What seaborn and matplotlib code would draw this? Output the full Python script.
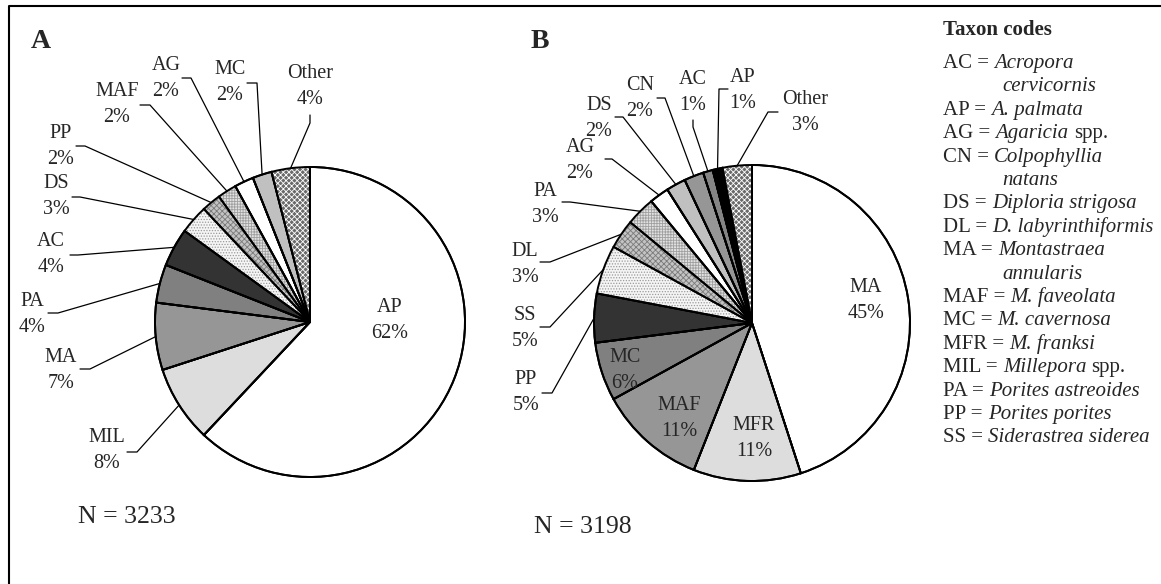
import matplotlib
matplotlib.use('Agg')
import numpy as np
import matplotlib.pyplot as plt
import seaborn as sns

W, H = 1161, 584

# panel A: taxa clockwise from 12 o'clock, % of colonies
codes_a = ['AP', 'MIL', 'MA', 'PA', 'AC', 'DS', 'PP', 'MAF', 'AG', 'MC', 'Other']
pct_a = [62, 8, 7, 4, 4, 3, 2, 2, 2, 2, 4]
n_a = 3233

# panel B
codes_b = ['MA', 'MFR', 'MAF', 'MC', 'PP', 'SS', 'DL', 'PA', 'AG', 'DS', 'CN',
           'AC', 'AP', 'Other']
pct_b = [45, 11, 11, 6, 5, 5, 3, 3, 2, 2, 2, 1, 1, 3]
n_b = 3198

# taxon code key: code, italic name, roman suffix, italic second line
key_codes = ['AC', 'AP', 'AG', 'CN', 'DS', 'DL', 'MA', 'MAF', 'MC', 'MFR',
             'MIL', 'PA', 'PP', 'SS']
key_names = ['Acropora', 'A. palmata', 'Agaricia', 'Colpophyllia',
             'Diploria strigosa', 'D. labyrinthiformis', 'Montastraea',
             'M. faveolata', 'M. cavernosa', 'M. franksi', 'Millepora',
             'Porites astreoides', 'Porites porites', 'Siderastrea siderea']
key_suffix = ['', '', 'spp.', '', '', '', '', '', '', '', 'spp.', '', '', '']
key_wrap = ['cervicornis', '', '', 'natans', '', '', 'annularis', '', '', '',
            '', '', '', '']

# Excel-like fill per series slot (fill colour, hatch, hatch colour)
SLOT_FILL = ['white', '#dddddd', '#969696', '#808080', '#333333', '#f5f5f5',
             '#c4c4c4', '#e2e2e2', 'white', '#c0c0c0', '#969696', '#858585',
             'black']
SLOT_HATCH = [None, None, None, None, None, '......', 'xxxxxx', '++++++',
              None, None, None, None, None]
SLOT_HATCH_COLOR = [None, None, None, None, None, '#9a9a9a', '#7a7a7a',
                    '#a0a0a0', None, None, None, None, None]
OTHER_STYLE = ('#6a6a6a', 'xxxxxx', 'white')

# label layout in pixels: text centre, leader start, leader elbow
LAYOUT_A = {
    'AP': ((390, 320), None),
    'MIL': ((107, 451), [(127, 452), (137, 452)]),
    'MA': ((61, 370), [(80, 369), (90, 369)]),
    'PA': ((32, 314), [(48, 313), (58, 313)]),
    'AC': ((51, 255), [(70, 255), (78, 255)]),
    'DS': ((56, 196), [(72, 197), (80, 197)]),
    'PP': ((61, 146), [(76, 146), (85, 146)]),
    'MAF': ((117, 105), [(140, 105), (150, 105)]),
    'AG': ((166, 78), [(182, 78), (191, 78)]),
    'MC': ((230, 83), [(247, 83), (257, 83)]),
    'Other': ((310, 87), [(310, 115), (310, 123)]),
}
LAYOUT_B = {
    'MA': ((866, 300), None),
    'MFR': ((754, 438), None),
    'MAF': ((679, 419), None),
    'MC': ((625, 371), None),
    'PP': ((526, 393), [(542, 393), (552, 393)]),
    'SS': ((525, 328), [(540, 327), (550, 327)]),
    'DL': ((525, 264), [(540, 262), (550, 262)]),
    'PA': ((545, 204), [(562, 202), (570, 202)]),
    'AG': ((580, 160), [(605, 159), (612, 159)]),
    'DS': ((599, 119), [(615, 117), (623, 117)]),
    'CN': ((640, 98), [(657, 98), (665, 98)]),
    'AC': ((693, 92), [(693, 120), (693, 127)]),
    'AP': ((743, 90), [(728, 89), (719, 89)]),
    'Other': ((805, 112), [(778, 112), (768, 112)]),
}

LABEL_SIZE = 14.5
KEY_SIZE = 15


def fy(y):
    '''Convert a pixel row (top origin) to data y (bottom origin).'''
    return H - y


def draw_pie(ax, codes, pcts, center, radius, layout):
    fills, hatches, hcolors = [], [], []
    for i, code in enumerate(codes):
        if code == 'Other':
            f, h, hc = OTHER_STYLE
        else:
            f, h, hc = SLOT_FILL[i], SLOT_HATCH[i], SLOT_HATCH_COLOR[i]
        fills.append(f)
        hatches.append(h)
        hcolors.append(hc)

    cxy = (center[0], fy(center[1]))
    wedges, _ = ax.pie(pcts, colors=fills, startangle=90, counterclock=False,
                       center=cxy, radius=radius, frame=True,
                       wedgeprops=dict(edgecolor='black', linewidth=1.4))
    for w, h, hc in zip(wedges, hatches, hcolors):
        if h:
            w.set_hatch(h)
            w.set_edgecolor(hc)
            w.set_linewidth(0)
    # outlines drawn again on top of the hatching
    ax.pie(pcts, colors=['none'] * len(pcts), startangle=90, counterclock=False,
           center=cxy, radius=radius, frame=True,
           wedgeprops=dict(edgecolor='black', linewidth=1.4, fill=False))

    for w, code, p in zip(wedges, codes, pcts):
        (tx, ty), leader = layout[code]
        ax.text(tx, fy(ty), f'{code}\n{p}%', ha='center', va='center',
                fontsize=LABEL_SIZE, linespacing=1.5)
        if leader:
            mid = np.deg2rad((w.theta1 + w.theta2) / 2)
            rim = (cxy[0] + radius * np.cos(mid), cxy[1] + radius * np.sin(mid))
            xs = [leader[0][0], leader[1][0], rim[0]]
            ys = [fy(leader[0][1]), fy(leader[1][1]), rim[1]]
            ax.plot(xs, ys, color='black', linewidth=0.9)


def text_run(ax, renderer, x, y, parts):
    '''Write (string, style) pieces one after another on a baseline.'''
    gap = 0.25 * KEY_SIZE * 100 / 72
    for s, style in parts:
        t = ax.text(x, fy(y), s, ha='left', va='baseline', fontsize=KEY_SIZE,
                    style=style)
        x = t.get_window_extent(renderer).x1 + gap


def main():
    sns.set_style('white')
    plt.rcParams['font.family'] = ['Liberation Serif', 'DejaVu Serif']
    plt.rcParams['hatch.linewidth'] = 0.6

    fig = plt.figure(figsize=(W / 100, H / 100), dpi=100)
    ax = fig.add_axes([0, 0, 1, 1])
    ax.set_xlim(0, W)
    ax.set_ylim(0, H)

    draw_pie(ax, codes_a, pct_a, (310, 322), 155, LAYOUT_A)
    draw_pie(ax, codes_b, pct_b, (752, 323), 158, LAYOUT_B)
    ax.set_xlim(0, W)
    ax.set_ylim(0, H)
    ax.set_aspect('equal')
    ax.axis('off')

    ax.text(41, fy(42), 'A', ha='center', va='center', fontsize=20,
            fontweight='bold')
    ax.text(540, fy(41), 'B', ha='center', va='center', fontsize=20,
            fontweight='bold')
    ax.text(127, fy(517), f'N = {n_a}', ha='center', va='center', fontsize=18.5)
    ax.text(583, fy(527), f'N = {n_b}', ha='center', va='center', fontsize=18.5)

    # taxon code key
    renderer = fig.canvas.get_renderer()
    ax.text(943, fy(35), 'Taxon codes', ha='left', va='baseline',
            fontsize=KEY_SIZE, fontweight='bold')
    y = 68
    step = 23.4
    for code, name, suffix, wrap in zip(key_codes, key_names, key_suffix, key_wrap):
        parts = [(code + ' =', 'normal'), (name, 'italic')]
        if suffix:
            parts.append((suffix, 'normal'))
        text_run(ax, renderer, 943, y, parts)
        y += step
        if wrap:
            ax.text(1002, fy(y), wrap, ha='left', va='baseline',
                    fontsize=KEY_SIZE, style='italic')
            y += step

    # frame around the figure (right and bottom fall outside the picture)
    ax.plot([9, 9, W + 5], [fy(H + 5), fy(6), fy(6)], color='black',
            linewidth=1.5)

    fig.savefig('out.png', dpi=100, facecolor='white')
    plt.close(fig)


if __name__ == '__main__':
    main()
